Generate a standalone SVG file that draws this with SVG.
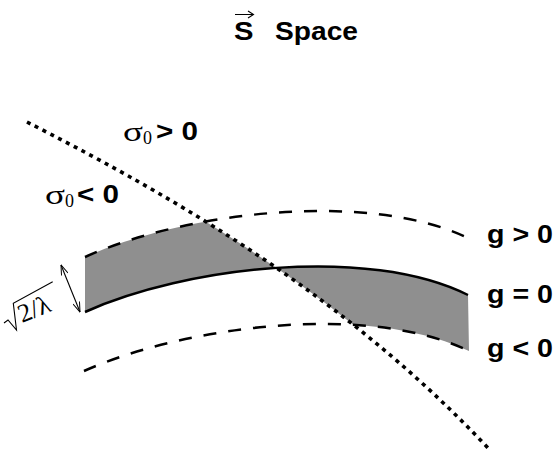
<svg xmlns="http://www.w3.org/2000/svg" width="558" height="451" viewBox="0 0 558 451">
  <style>
    .sans { font-family: "Liberation Sans", Arial, sans-serif; font-weight: bold; font-size: 26px; fill: #000; }
    .serif { font-family: "Liberation Serif", "Times New Roman", serif; fill: #000; }
    .solid { fill: none; stroke: #000; stroke-width: 2.5; }
    .dashed { fill: none; stroke: #000; stroke-width: 2.5; stroke-dasharray: 13 12; }
    .dotted { fill: none; stroke: #000; stroke-width: 3.6; stroke-dasharray: 4 4.8; }
    .thin { fill: none; stroke: #000; stroke-width: 1.1; }
    .band { fill: #8f8f8f; stroke: none; }
  </style>
  <defs>
    <clipPath id="belowLeft">
      <path d="M27,122 C150,185 335,285 488,448 L488,460 L0,460 L0,122 Z"/>
    </clipPath>
    <clipPath id="aboveRight">
      <path d="M27,122 C150,185 335,285 488,448 L560,448 L560,0 L27,0 Z"/>
    </clipPath>
    <marker id="openHead" viewBox="0 0 10 8" refX="10" refY="4" markerUnits="userSpaceOnUse" markerWidth="11" markerHeight="8" orient="auto-start-reverse">
      <path d="M0,0.5 L10,4 L0,7.5" fill="none" stroke="#000" stroke-width="1"/>
    </marker>
  </defs>

  <g id="title">
    <text class="sans" x="234" y="40" font-size="25.5" textLength="19.5" lengthAdjust="spacingAndGlyphs">S</text>
    <path class="thin" d="M235,14.5 H253 M248,11 L253.5,14.5 L248,18"/>
    <text class="sans" x="275" y="40" font-size="25.5" textLength="83" lengthAdjust="spacingAndGlyphs">Space</text>
  </g>

  <g id="shaded-regions">
    <path class="band" clip-path="url(#belowLeft)" d="M85,257 C185,212 368,190 468,238 L468,295 C368,245 185,267 85,312 Z"/>
    <path class="band" clip-path="url(#aboveRight)" d="M85,312 C185,267 368,245 468,295 L469,351 C368,302 185,326 84,371 Z"/>
  </g>

  <g id="connectors">
    <path id="g-pos" class="dashed" d="M85,257 C185,212 368,190 468,238"/>
    <path id="g-zero" class="solid" d="M85,312 C185,267 368,245 468,295"/>
    <path id="g-neg" class="dashed" d="M84,371 C185,326 368,302 469,351"/>
    <path id="sigma-zero" class="dotted" d="M27,122 C150,185 335,285 488,448"/>
    <line id="width-arrow" class="thin" x1="61" y1="265" x2="80" y2="312" marker-start="url(#openHead)" marker-end="url(#openHead)"/>
  </g>

  <g id="label-sigma-pos">
    <text class="serif" x="123" y="141" font-size="28" textLength="20" lengthAdjust="spacingAndGlyphs">σ</text>
    <text class="serif" x="143" y="144" font-size="18">0</text>
    <text class="sans" x="156" y="140" textLength="42" lengthAdjust="spacingAndGlyphs">&gt; 0</text>
  </g>
  <g id="label-sigma-neg">
    <text class="serif" x="45" y="203.5" font-size="28" textLength="20" lengthAdjust="spacingAndGlyphs">σ</text>
    <text class="serif" x="65" y="206.5" font-size="18">0</text>
    <text class="sans" x="77" y="203" textLength="42" lengthAdjust="spacingAndGlyphs">&lt; 0</text>
  </g>

  <g id="label-g-pos"><text class="sans" x="487" y="243" textLength="66" lengthAdjust="spacingAndGlyphs">g &gt; 0</text></g>
  <g id="label-g-zero"><text class="sans" x="487" y="303" textLength="66" lengthAdjust="spacingAndGlyphs">g = 0</text></g>
  <g id="label-g-neg"><text class="sans" x="487" y="356.5" textLength="66" lengthAdjust="spacingAndGlyphs">g &lt; 0</text></g>

  <g id="label-width">
    <path class="thin" d="M4,323 L8,320 L16.5,330 L13.3,303.3 L52.7,281.7"/>
    <text class="serif" transform="translate(22,323) rotate(-22)" font-size="26">2/λ</text>
  </g>
</svg>
